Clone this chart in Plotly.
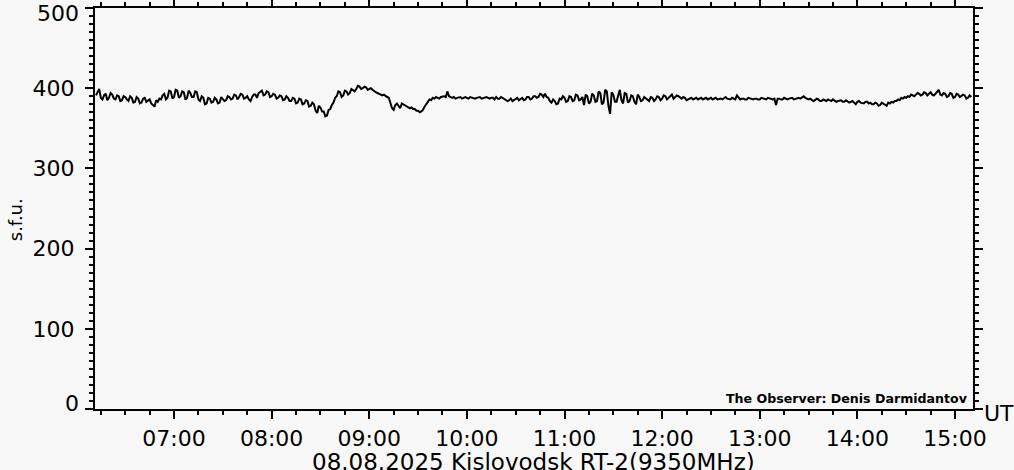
import pandas as pd
import plotly.graph_objects as go

# ---- data (flux in s.f.u., 1-minute samples starting 06:12 UT) ----
start_time = "2025-08-08 06:12"
step_minutes = 1
flux = [
    391, 396, 399, 388, 386, 391, 393, 385, 388, 394, 392, 387, 386, 391, 390, 384, 385, 390, 389, 386,
    384, 390, 388, 382, 383, 389, 387, 381, 382, 387, 388, 383, 384, 386, 381, 379, 377, 385, 383, 387,
    386, 391, 393, 386, 388, 397, 396, 387, 389, 398, 397, 388, 390, 396, 395, 386, 388, 397, 394, 389,
    389, 396, 395, 386, 384, 390, 388, 380, 381, 388, 387, 382, 383, 388, 386, 381, 382, 389, 387, 384,
    385, 390, 389, 386, 387, 392, 391, 386, 389, 393, 392, 387, 388, 390, 386, 384, 389, 392, 392, 388,
    394, 396, 397, 391, 392, 396, 395, 389, 390, 393, 392, 387, 388, 391, 390, 385, 386, 390, 388, 384,
    384, 388, 387, 381, 382, 387, 386, 380, 381, 385, 384, 377, 378, 382, 380, 372, 369, 378, 376, 371,
    371, 365, 366, 373, 374, 379, 382, 388, 390, 396, 395, 389, 391, 397, 396, 392, 394, 399, 398, 396,
    399, 403, 402, 399, 400, 402, 401, 398, 399, 400, 398, 396, 395, 394, 393, 391, 391, 392, 390, 389,
    388, 380, 375, 373, 379, 381, 377, 375, 381, 380, 379, 377, 377, 375, 376, 374, 374, 372, 372, 370,
    371, 373, 377, 381, 383, 386, 385, 388, 387, 389, 388, 387, 389, 390, 390, 389, 396, 390, 389, 388,
    389, 387, 388, 389, 389, 387, 388, 389, 388, 387, 389, 388, 388, 387, 388, 389, 389, 387, 388, 389,
    389, 388, 387, 388, 388, 386, 389, 387, 387, 389, 388, 386, 386, 384, 385, 387, 384, 385, 386, 388,
    385, 387, 388, 385, 386, 389, 389, 386, 387, 390, 390, 388, 389, 393, 392, 389, 393, 389, 388, 384,
    382, 386, 384, 380, 381, 387, 386, 390, 388, 383, 384, 390, 389, 384, 385, 392, 391, 385, 386, 389,
    379, 392, 390, 381, 383, 393, 391, 383, 384, 396, 394, 380, 382, 398, 396, 378, 368, 395, 392, 383,
    383, 391, 398, 385, 381, 394, 393, 382, 384, 391, 390, 383, 380, 392, 389, 384, 385, 389, 387, 385,
    384, 389, 388, 384, 386, 390, 389, 385, 387, 391, 390, 386, 388, 391, 392, 387, 389, 391, 390, 388,
    387, 389, 388, 385, 386, 388, 388, 386, 387, 388, 386, 387, 388, 386, 387, 388, 386, 387, 388, 386,
    387, 388, 386, 387, 387, 386, 388, 389, 387, 386, 386, 388, 387, 386, 391, 388, 386, 387, 387, 386,
    386, 388, 387, 386, 386, 387, 387, 386, 386, 388, 387, 386, 386, 388, 387, 386, 386, 387, 379, 387,
    387, 386, 386, 388, 387, 386, 387, 388, 388, 386, 387, 388, 388, 387, 389, 390, 388, 387, 386, 387,
    386, 384, 385, 387, 386, 384, 384, 386, 385, 384, 386, 385, 384, 386, 385, 383, 384, 385, 385, 383,
    383, 385, 384, 382, 383, 384, 382, 380, 383, 384, 382, 381, 381, 383, 383, 381, 382, 380, 380, 382,
    381, 378, 379, 382, 381, 379, 378, 382, 381, 383, 382, 384, 384, 386, 385, 388, 387, 389, 388, 390,
    389, 392, 391, 390, 392, 394, 393, 391, 392, 395, 394, 391, 393, 395, 392, 391, 393, 396, 398, 392,
    391, 394, 393, 389, 390, 394, 393, 388, 389, 393, 392, 389, 390, 392, 391, 387, 388, 391, 389,
]
times = pd.date_range(start_time, periods=len(flux), freq=f"{step_minutes}min")

x_range = ["2025-08-08 06:11:25", "2025-08-08 15:11:05"]
y_range = [0, 500]
y_ticks = [0, 100, 200, 300, 400, 500]
y_ticktext = ["", "100", "200", "300", "400", ""]  # end labels placed separately (nudged inward)

FONT = "DejaVu Sans"
BG = "#f8f8f8"

fig = go.Figure(
    go.Scatter(x=times, y=flux, mode="lines",
               line=dict(color="black", width=2), hoverinfo="skip")
)

fig.update_layout(
    width=1014, height=470,
    margin=dict(l=95, r=41, t=8, b=61),
    paper_bgcolor=BG, plot_bgcolor=BG,
    showlegend=False,
    font=dict(family=FONT, color="black"),
)

fig.update_xaxes(
    type="date", range=x_range, automargin=False,
    showgrid=False, zeroline=False,
    showline=True, linecolor="black", linewidth=2, mirror="allticks",
    ticks="outside", ticklen=8, tickwidth=2, tickcolor="black",
    dtick=3600000, tickformat="%H:%M",
    tickfont=dict(size=22, family=FONT, color="black"),
    ticklabelstandoff=1, ticklabeloverflow="allow",
    minor=dict(ticks="outside", ticklen=4, tickwidth=2, tickcolor="black",
               dtick=900000, showgrid=False),
)

fig.update_yaxes(
    range=y_range, tickvals=y_ticks, ticktext=y_ticktext, automargin=False,
    showgrid=False, zeroline=False,
    showline=True, linecolor="black", linewidth=2, mirror="allticks",
    ticks="outside", ticklen=8, tickwidth=2, tickcolor="black",
    tickfont=dict(size=22, family=FONT, color="black"),
    ticklabelstandoff=6, ticklabeloverflow="allow",
    minor=dict(ticks="outside", ticklen=4, tickwidth=2, tickcolor="black",
               dtick=10, showgrid=False),
)

# end tick labels, nudged inward like the original
for val, shift in ((y_ticks[0], 6), (y_ticks[-1], -5)):
    fig.add_annotation(text=str(val), xref="paper", yref="y", x=0, y=val,
                       xanchor="right", yanchor="middle", xshift=-14, yshift=shift,
                       showarrow=False, font=dict(size=22, family=FONT, color="black"))

fig.add_annotation(text="s.f.u.", xref="paper", yref="paper",
                   x=-0.091, y=0.471, textangle=-90, showarrow=False,
                   xanchor="center", yanchor="middle",
                   font=dict(size=18, family=FONT, color="#000000"))
fig.add_annotation(text="08.08.2025 Kislovodsk RT-2(9350MHz)", xref="paper", yref="paper",
                   x=0.499, y=-0.132, showarrow=False, xanchor="center", yanchor="middle",
                   font=dict(size=23, family=FONT, color="black"))
fig.add_annotation(text="UT", xref="paper", yref="paper",
                   x=1.0296, y=-0.01, showarrow=False, xanchor="center", yanchor="middle",
                   font=dict(size=22, family=FONT, color="black"))
fig.add_annotation(text="<b>The Observer: Denis Darmidantov</b>", xref="paper", yref="paper",
                   x=0.997, y=0.027, showarrow=False, xanchor="right", yanchor="middle",
                   font=dict(size=12.6, family=FONT, color="black"))

fig.write_html(
    "out.html",
    config={"displayModeBar": False},
    post_script="document.body.style.margin='0';document.body.style.padding='0';",
)
